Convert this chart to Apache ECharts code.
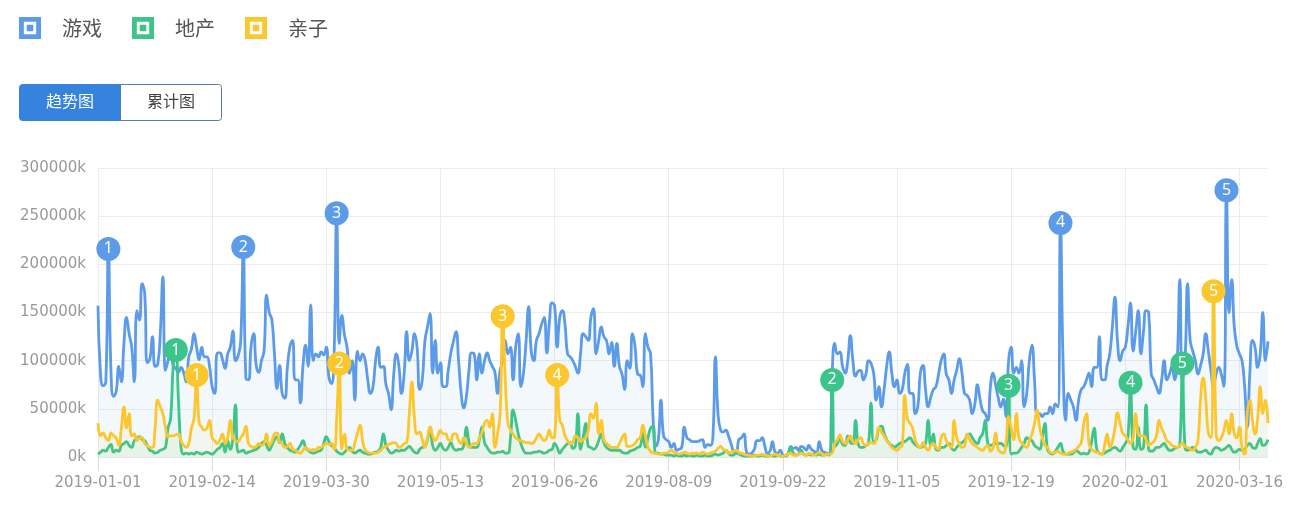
<!DOCTYPE html>
<html><head><meta charset="utf-8">
<script src="https://cdn.jsdelivr.net/npm/echarts@6/dist/echarts.min.js"></script>
<style>html,body{margin:0;padding:0;background:#fff}#c{width:1297px;height:519px}</style>
</head><body><div id="c"></div><script>
// ---- data ----
const startDate = '2019-01-01';
const dayCount = 452;
const seriesNames = ['游戏', '地产', '亲子'];
const buttonLabels = ['趋势图', '累计图'];
const yTicks = [0, 50000, 100000, 150000, 200000, 250000, 300000];

const gameValues = [
157000,85000,74000,78000,216000,90000,63000,68000,94000,78000,
118000,145000,128000,114000,78000,152000,142000,180000,170000,98000,
102000,125000,94000,96000,128000,187000,90000,100000,110000,95000,
92000,88000,93000,88000,78000,104000,112000,128000,114000,101000,
114000,104000,104000,94000,73000,66000,108000,108000,101000,92000,
107000,114000,131000,100000,105000,120000,218000,82000,80000,115000,
128000,95000,88000,100000,110000,168000,150000,143000,108000,71000,
95000,66000,61000,93000,115000,121000,80000,80000,56000,94000,
116000,94000,158000,100000,107000,104000,109000,106000,114000,83000,
76000,107000,253000,118000,147000,127000,114000,87000,100000,59000,
110000,100000,107000,100000,80000,66000,73000,100000,114000,93000,
94000,75000,66000,49000,86000,107000,94000,66000,86000,130000,
100000,110000,128000,114000,70000,80000,120000,135000,149000,87000,
121000,87000,98000,73000,73000,90000,108000,120000,130000,100000,
66000,51000,63000,90000,108000,107000,80000,107000,87000,100000,
108000,100000,94000,88000,66000,90000,100000,121000,107000,114000,
80000,114000,128000,73000,87000,120000,156000,110000,100000,121000,
128000,138000,145000,108000,140000,160000,157000,114000,145000,152000,
138000,107000,104000,100000,94000,87000,107000,128000,125000,121000,
145000,154000,107000,121000,135000,125000,121000,107000,119000,94000,
118000,94000,86000,70000,100000,92000,128000,115000,86000,85000,
73000,128000,114000,107000,38000,11000,18000,59000,22000,18000,
16000,10000,14000,7000,8000,10000,31000,20000,18000,16000,
16000,16000,17000,18000,10000,13000,12000,20000,104000,45000,
28000,26000,28000,22000,14000,6000,4000,18000,20000,24000,
5000,3000,4000,8000,17000,17000,20000,12000,4000,6000,
16000,5000,4000,7000,2000,1000,3000,10000,9000,10000,
7000,11000,10000,7000,12000,8000,6000,4000,16000,7000,
5000,4000,3000,87000,118000,107000,109000,94000,87000,100000,
126000,100000,84000,89000,90000,80000,86000,100000,97000,87000,
59000,73000,52000,70000,94000,109000,87000,73000,80000,66000,
70000,87000,96000,66000,66000,45000,52000,87000,95000,70000,
52000,62000,70000,73000,86000,100000,107000,86000,80000,66000,
80000,90000,102000,88000,66000,64000,59000,45000,55000,75000,
60000,48000,45000,38000,73000,87000,75000,62000,52000,60000,
42000,100000,114000,87000,93000,87000,100000,52000,66000,100000,
116000,80000,45000,45000,42000,45000,45000,52000,45000,55000,
52000,243000,100000,38000,66000,59000,52000,38000,59000,70000,
73000,80000,87000,73000,93000,93000,125000,80000,80000,95000,
107000,135000,166000,120000,100000,110000,114000,135000,160000,110000,
130000,152000,107000,130000,152000,150000,86000,80000,73000,66000,
80000,100000,80000,86000,94000,80000,100000,184000,80000,100000,
180000,121000,110000,100000,86000,95000,107000,128000,110000,90000,
73000,86000,93000,86000,73000,277000,150000,184000,135000,115000,
107000,100000,73000,31000,87000,121000,114000,93000,107000,150000,
100000,120000
];

const estateValues = [
3000,5000,7000,6000,10000,13000,5000,7000,6000,12000,
14000,16000,12000,10000,17000,19000,21000,18000,17000,12000,
7000,6000,4000,5000,7000,8000,10000,30000,40000,95000,
111000,60000,10000,3000,4000,3000,4000,3000,5000,4000,
3000,4000,5000,4000,3000,5000,8000,10000,14000,5000,
17000,8000,20000,54000,5000,6000,7000,4000,5000,6000,
7000,8000,10000,14000,16000,12000,7000,12000,18000,21000,
15000,24000,14000,10000,7000,6000,5000,8000,12000,17000,
10000,7000,5000,4000,5000,6000,7000,14000,21000,16000,
12000,10000,6000,4000,3000,5000,8000,10000,6000,4000,
6000,7000,5000,4000,3000,3000,4000,5000,6000,10000,
24000,12000,7000,4000,5000,7000,6000,7000,7000,9000,
11000,8000,5000,4000,8000,10000,11000,18000,31000,12000,
7000,10000,14000,9000,7000,10000,15000,9000,7000,8000,
8000,12000,31000,16000,10000,10000,10000,18000,31000,15000,
10000,6000,4000,4000,5000,5000,6000,4000,4000,20000,
49000,38000,24000,14000,7000,4000,4000,4000,5000,5000,
6000,5000,4000,5000,7000,8000,14000,10000,4000,8000,
11000,14000,15000,9000,12000,45000,8000,20000,35000,11000,
10000,8000,10000,17000,24000,15000,10000,8000,7000,7000,
7000,7000,5000,4000,4000,6000,7000,8000,10000,11000,
25000,10000,20000,30000,32000,4000,4000,3000,3000,2000,
2000,2000,1000,2000,1000,1000,2000,1000,2000,1000,
1000,2000,1000,1000,2000,1000,1000,2000,3000,2000,
3000,4000,7000,4000,2000,2000,5000,3000,2000,1000,
1000,1000,1000,2000,1000,1000,2000,1000,1000,2000,
1000,1000,2000,1000,1000,2000,3000,11000,4000,2000,
3000,7000,3000,2000,3000,2000,3000,2000,3000,2000,
2000,3000,2000,80000,11000,14000,20000,13000,12000,22000,
15000,14000,38000,14000,10000,10000,12000,14000,56000,16000,
18000,30000,32000,25000,18000,14000,12000,10000,12000,14000,
15000,16000,18000,20000,16000,13000,11000,10000,11000,14000,
38000,12000,24000,8000,7000,10000,10000,12000,14000,9000,
7000,10000,13000,15000,17000,22000,24000,20000,16000,14000,
20000,24000,38000,14000,12000,13000,14000,14000,14000,12000,
10000,74000,3000,4000,4000,6000,10000,14000,20000,18000,
17000,12000,10000,8000,20000,35000,8000,4000,3000,6000,
10000,14000,6000,3000,3000,3000,4000,7000,5000,3000,
4000,3000,5000,16000,30000,8000,4000,3000,4000,6000,
7000,9000,10000,8000,6000,10000,14000,20000,77000,10000,
8000,31000,8000,10000,54000,8000,6000,7000,10000,10000,
12000,14000,10000,7000,7000,9000,10000,12000,97000,10000,
7000,8000,10000,8000,5000,5000,6000,7000,4000,3000,
8000,10000,9000,7000,8000,10000,12000,8000,5000,6000,
8000,7000,8000,12000,14000,10000,9000,14000,19000,12000,
13000,18000
];

const parentingValues = [
35000,22000,25000,20000,17000,25000,22000,20000,12000,30000,
52000,30000,45000,22000,24000,17000,20000,20000,14000,12000,
10000,10000,30000,59000,52000,45000,31000,21000,22000,22000,
23000,24000,17000,12000,10000,14000,30000,40000,85000,35000,
31000,28000,30000,38000,20000,17000,14000,18000,24000,14000,
20000,38000,20000,17000,16000,20000,24000,32000,14000,11000,
10000,11000,14000,12000,14000,24000,12000,16000,24000,25000,
16000,14000,10000,11000,14000,8000,7000,5000,4000,7000,
10000,8000,7000,8000,7000,10000,10000,12000,14000,13000,
14000,8000,40000,97000,8000,24000,8000,7000,7000,15000,
24000,33000,17000,7000,5000,4000,4000,4000,5000,7000,
10000,11000,13000,14000,15000,14000,10000,11000,14000,15000,
45000,78000,40000,24000,26000,18000,10000,20000,31000,22000,
17000,22000,28000,24000,24000,18000,17000,24000,24000,17000,
14000,20000,14000,10000,12000,14000,14000,20000,25000,35000,
38000,31000,45000,10000,24000,45000,146000,80000,35000,28000,
24000,20000,18000,17000,16000,15000,15000,14000,15000,20000,
24000,20000,17000,20000,28000,20000,21000,85000,38000,33000,
22000,17000,14000,15000,22000,20000,16000,18000,20000,28000,
45000,40000,56000,24000,38000,18000,14000,12000,10000,10000,
10000,14000,20000,24000,11000,11000,12000,14000,18000,20000,
33000,22000,10000,6000,4000,4000,3000,3000,4000,4000,
5000,7000,5000,4000,3000,4000,5000,4000,3000,4000,
4000,4000,3000,5000,4000,3000,4000,5000,6000,9000,
11000,8000,7000,4000,5000,6000,7000,5000,4000,3000,
2000,2000,1000,1000,2000,2000,3000,2000,1000,1000,
2000,3000,2000,1000,1000,2000,3000,4000,2000,2000,
3000,4000,3000,2000,4000,3000,2000,3000,5000,3000,
2000,3000,3000,4000,14000,18000,23000,16000,14000,18000,
22000,16000,14000,18000,20000,14000,12000,14000,15000,14000,
20000,31000,26000,22000,17000,14000,10000,8000,7000,10000,
12000,64000,40000,35000,30000,18000,12000,10000,15000,10000,
7000,12000,14000,10000,8000,20000,24000,17000,12000,10000,
38000,20000,14000,10000,11000,24000,18000,14000,12000,10000,
8000,7000,10000,12000,6000,10000,25000,8000,5000,4000,
15000,42000,30000,18000,45000,20000,15000,12000,10000,17000,
24000,35000,49000,30000,20000,12000,10000,5000,4000,5000,
6000,4000,3000,3000,4000,5000,6000,8000,11000,15000,
35000,45000,14000,8000,6000,5000,4000,3000,12000,24000,
10000,16000,30000,46000,35000,25000,22000,18000,14000,20000,
45000,24000,22000,22000,18000,12000,14000,16000,22000,38000,
30000,24000,17000,15000,12000,11000,10000,12000,14000,11000,
10000,8000,7000,10000,17000,60000,82000,60000,25000,20000,
172000,25000,17000,20000,28000,38000,24000,45000,24000,20000,
31000,10000,3000,45000,59000,38000,24000,40000,73000,45000,
59000,35000
];

// indices (day number) of the numbered peak markers
const gamePeaks = [4, 56, 92, 371, 435];
const estatePeaks = [30, 283, 351, 398, 418];
const parentingPeaks = [38, 93, 156, 177, 430];

// ---- build categories ----
const categories = [];
(function () {
  const d0 = new Date(startDate + 'T00:00:00Z');
  for (let i = 0; i < dayCount; i++) {
    const d = new Date(d0.getTime() + i * 86400000);
    categories.push(d.toISOString().slice(0, 10));
  }
})();

const colors = ['#5b9be8', '#3cc48a', '#fcc72c'];
const areaColors = ['rgba(91,155,232,0.10)', 'rgba(60,196,138,0.10)', 'rgba(252,199,44,0.08)'];
const allValues = [gameValues, estateValues, parentingValues];
const allPeaks = [gamePeaks, estatePeaks, parentingPeaks];

const chart = echarts.init(document.getElementById('c'), null, { renderer: 'canvas' });
const FONT = "'Noto Sans CJK SC', 'Noto Sans', sans-serif";
const AXIS_FONT = "'DejaVu Sans', sans-serif";
const legendIcon = 'path://M0,0H10V10H0Z M2.2,2.2V7.8H7.8V2.2Z M3.5,3.5H6.5V6.5H3.5Z';

const series = seriesNames.map((name, s) => ({
  name: name,
  type: 'line',
  data: allValues[s],
  smooth: true,
  symbol: 'none',
  lineStyle: { width: 2.8, color: colors[s] },
  itemStyle: { color: colors[s] },
  areaStyle: { color: areaColors[s], origin: 'start' },
  z: 2 + s,
  markPoint: {
    symbol: 'circle',
    symbolSize: 24,
    itemStyle: { color: colors[s] },
    label: { show: true, color: '#fff', fontSize: 16, fontFamily: "'Noto Sans', sans-serif", formatter: p => String(p.value) },
    data: allPeaks[s].map((idx, k) => ({ coord: [categories[idx], allValues[s][idx]], value: k + 1 }))
  }
}));

chart.setOption({
  animation: false,
  textStyle: { fontFamily: FONT },
  color: colors,
  legend: {
    left: 19, top: 17, padding: 0,
    itemWidth: 22, itemHeight: 22, itemGap: 30,
    icon: legendIcon,
    itemStyle: { borderWidth: 0 },
    textStyle: { fontSize: 20, color: '#555', padding: [0, 0, 0, 16], fontFamily: FONT },
    data: seriesNames
  },
  graphic: [
    { type: 'rect', left: 19, top: 84, shape: { width: 101, height: 36, r: [3, 0, 0, 3] },
      style: { fill: '#3583dd', stroke: '#3583dd', lineWidth: 1 } },
    { type: 'rect', left: 120, top: 84, shape: { width: 101, height: 36, r: [0, 3, 3, 0] },
      style: { fill: '#fff', stroke: '#5a7fa6', lineWidth: 1 } },
    { type: 'text', left: 46, top: 93, style: { text: buttonLabels[0], fill: '#fff', fontSize: 16, fontFamily: FONT } },
    { type: 'text', left: 147, top: 93, style: { text: buttonLabels[1], fill: '#444', fontSize: 16, fontFamily: FONT } }
  ],
  grid: { left: 98, right: 29, top: 168, bottom: 62, containLabel: false },
  xAxis: {
    type: 'category',
    boundaryGap: false,
    data: categories,
    axisLine: { show: true, lineStyle: { color: '#e6e6e6' } },
    axisTick: { show: true, interval: 43, length: 14, lineStyle: { color: '#dcdcdc' } },
    axisLabel: { interval: 43, fontSize: 15, color: '#999', margin: 19, fontFamily: AXIS_FONT },
    splitLine: { show: true, interval: 43, lineStyle: { color: '#ececec' } }
  },
  yAxis: {
    type: 'value',
    min: yTicks[0], max: yTicks[yTicks.length - 1], interval: yTicks[1] - yTicks[0],
    axisLine: { show: false },
    axisTick: { show: false },
    axisLabel: { formatter: v => v + 'k', fontSize: 15, color: '#999', margin: 12, fontFamily: AXIS_FONT },
    splitLine: { lineStyle: { color: '#ececec' } }
  },
  series: series
});
</script></body></html>
